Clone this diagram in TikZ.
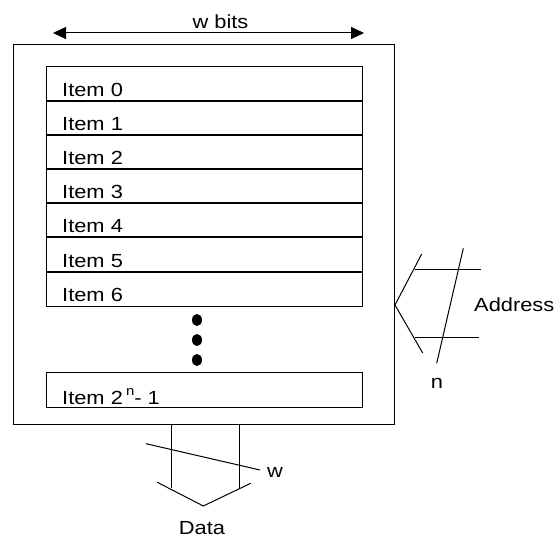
\documentclass[tikz,border=0pt]{standalone}
\usepackage{fontspec}
\setmainfont{Liberation Sans}
\newfontfamily\widesans[FakeStretch=1.15]{Liberation Sans}
\usetikzlibrary{arrows.meta}
\begin{document}
\begin{tikzpicture}[x=1pt,y=-1pt,
  box/.style={draw, line width=1pt, rectangle, inner sep=0pt, outer sep=0pt},
  lbl/.style={inner sep=0pt, font=\widesans\fontsize{19}{22}\selectfont},
  wire/.style={line width=1pt}]
\useasboundingbox (0,0) rectangle (557,540);
% outer memory box
\node[box, minimum width=381pt, minimum height=379pt] (mem) at (203.5,234.5) {};
% width arrow
\coordinate (aL) at (53,33);
\coordinate (aR) at (364,33);
\draw[wire, {Triangle[length=13pt,width=12pt]}-{Triangle[length=13pt,width=12pt]}] (aL) -- (aR);
\node[lbl] (wbits) at (220.5,22) {w bits};
% items
\foreach \i in {0,...,6} {
  \node[box, minimum width=316pt, minimum height=35pt] (it\i) at (204,{84.5+34*\i}) {};
  \node[lbl, anchor=base west] (t\i) at ([xshift=16pt,yshift=5pt]it\i.south west) {Item \i};
}
% dots
\fill (197,320) ellipse [x radius=5pt, y radius=6pt];
\fill (197,340) ellipse [x radius=5pt, y radius=6pt];
\fill (197,360) ellipse [x radius=5pt, y radius=6pt];
% last item
\node[box, minimum width=316pt, minimum height=35pt] (itlast) at (204,389.5) {};
\node[lbl, anchor=base west] (tlast) at ([xshift=16pt,yshift=2.5pt]itlast.south west)
  {Item 2\,\raisebox{0.5em}{\fontsize{13}{13}\selectfont n}- 1};
% address bus
\coordinate (ap) at (395,305);
\coordinate (au) at (421.7,254);
\coordinate (ad) at (422.7,353);
\coordinate (h1a) at (415,269.5);
\coordinate (h1b) at (480.7,269.5);
\coordinate (h2a) at (415,337);
\coordinate (h2b) at (479,337);
\coordinate (s1) at (463.3,248.3);
\coordinate (s2) at (436.7,363.3);
\draw[wire] (au) -- (ap) -- (ad);
\draw[wire] (h1a) -- (h1b);
\draw[wire] (h2a) -- (h2b);
\draw[wire] (s1) -- (s2);
\node[lbl, anchor=west] (addr) at (474,305) {Address};
\node[lbl] (n) at (437,383) {n};
% data bus
\coordinate (d1t) at (171.7,424);
\coordinate (d1b) at (171.7,488);
\coordinate (d2t) at (239,424);
\coordinate (d2b) at (239,488);
\coordinate (cl) at (157.3,482.3);
\coordinate (cm) at (203.3,506);
\coordinate (cr) at (250.7,483.3);
\coordinate (w1) at (146,443.7);
\coordinate (w2) at (260,470);
\draw[wire] (d1t) -- (d1b);
\draw[wire] (d2t) -- (d2b);
\draw[wire] (cl) -- (cm) -- (cr);
\draw[wire] (w1) -- (w2);
\node[lbl] (w) at (275,472) {w};
\node[lbl] (data) at (202,528) {Data};
\end{tikzpicture}
\end{document}
